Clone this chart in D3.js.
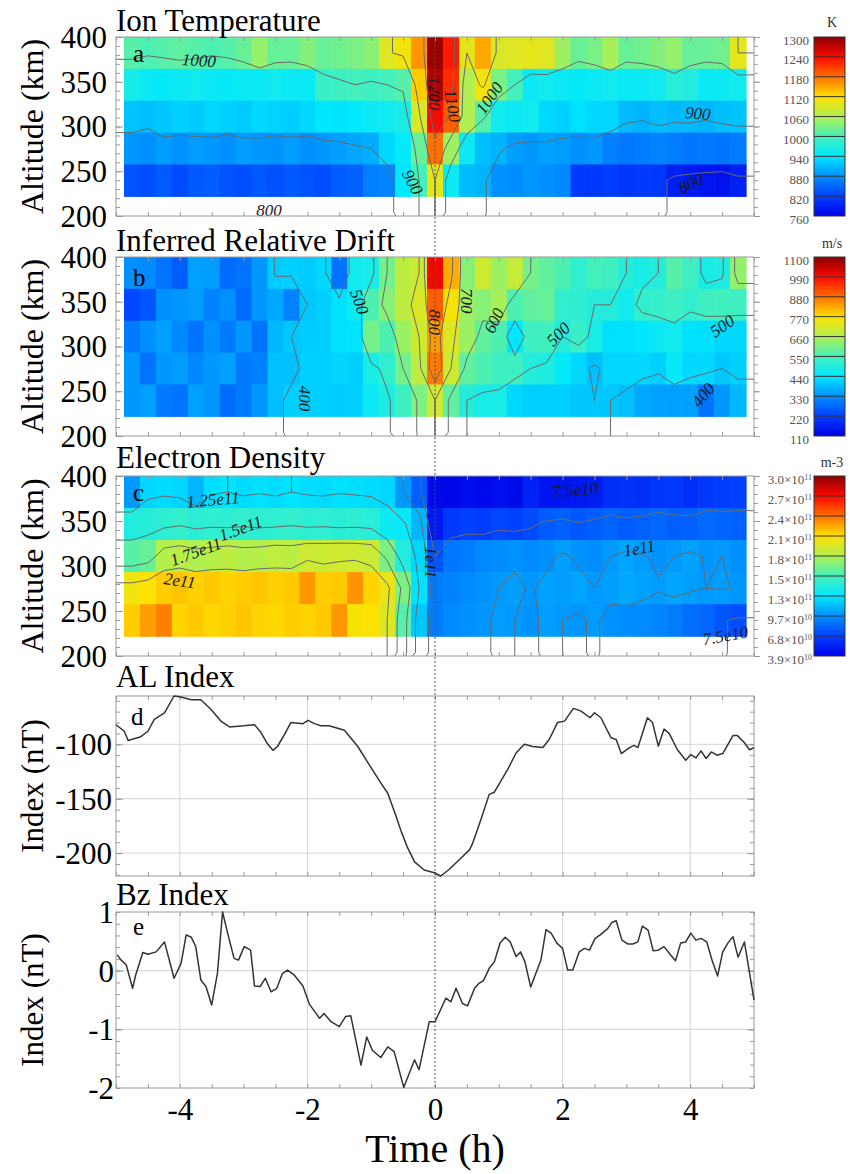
<!DOCTYPE html>
<html>
<head>
<meta charset="utf-8">
<script src="https://cdn.jsdelivr.net/npm/d3@7"></script>
<style>
  body { margin: 0; background: #fff; }
  text { font-family: "Liberation Serif", "Times New Roman", serif; }
</style>
</head>
<body>
<script>
// ---------- DATA ----------
// radar bins: 15 min in time, 5 altitude gates
var binTimes = [-4.75, -4.5, -4.25, -4, -3.75, -3.5, -3.25, -3, -2.75, -2.5, -2.25, -2, -1.75,
  -1.5, -1.25, -1, -0.75, -0.5, -0.25, 0, 0.25, 0.5, 0.75, 1, 1.25, 1.5, 1.75, 2, 2.25, 2.5,
  2.75, 3, 3.25, 3.5, 3.75, 4, 4.25, 4.5, 4.75]
var altEdges = [400, 364.4, 328.8, 293.2, 257.6, 222]

// Ion temperature (K), rows top -> bottom
var ionTemp = [
  [1010, 1005, 1010, 1015, 1010, 1005, 1010, 1020, 1045, 1020, 1020, 1035, 1020, 1025, 1030, 1040, 1095, 1110, 1160, 1290, 1230, 1100, 1150, 1090, 1095, 1100, 1095, 1050, 1020, 1030, 1055, 1020, 1025, 1035, 1045, 1020, 1020, 1025, 1100],
  [960, 950, 945, 950, 955, 950, 945, 950, 950, 955, 950, 948, 990, 995, 1000, 995, 1000, 1010, 1130, 1280, 1220, 1060, 1110, 1030, 1000, 950, 955, 950, 945, 950, 955, 950, 950, 955, 975, 970, 950, 950, 955],
  [915, 912, 918, 925, 920, 928, 925, 920, 930, 925, 922, 930, 940, 938, 942, 950, 955, 965, 1090, 1240, 1190, 1060, 1010, 955, 950, 955, 930, 925, 935, 930, 928, 910, 905, 912, 908, 910, 905, 912, 915],
  [885, 880, 890, 882, 888, 885, 880, 890, 885, 883, 888, 880, 885, 890, 895, 900, 930, 945, 1020, 1180, 1050, 950, 912, 905, 890, 885, 892, 888, 880, 885, 868, 862, 865, 870, 865, 860, 862, 858, 865],
  [835, 830, 840, 828, 838, 842, 835, 830, 838, 832, 840, 835, 830, 842, 845, 868, 872, 940, 1000, 1100, 950, 910, 905, 882, 878, 885, 880, 875, 815, 812, 818, 810, 815, 812, 790, 785, 780, 778, 790]
]

// Inferred relative drift (m/s)
var drift = [
  [330, 325, 290, 260, 350, 345, 280, 290, 340, 405, 410, 405, 420, 290, 470, 480, 600, 680, 700, 1000, 820, 620, 700, 640, 690, 600, 580, 560, 520, 550, 540, 500, 480, 500, 570, 540, 480, 490, 630],
  [230, 250, 330, 340, 345, 310, 330, 280, 340, 360, 310, 400, 410, 430, 460, 560, 620, 680, 720, 900, 760, 640, 620, 650, 560, 580, 585, 520, 515, 500, 500, 470, 520, 525, 540, 520, 540, 545, 540],
  [300, 330, 350, 320, 290, 330, 300, 340, 290, 380, 400, 405, 410, 430, 435, 600, 560, 640, 700, 840, 720, 640, 580, 560, 440, 540, 545, 500, 530, 480, 430, 430, 440, 460, 470, 430, 430, 420, 420],
  [340, 290, 340, 345, 320, 340, 350, 300, 310, 390, 390, 410, 410, 415, 410, 480, 520, 600, 680, 870, 700, 580, 560, 540, 540, 500, 490, 450, 420, 390, 420, 420, 420, 410, 450, 420, 420, 400, 410],
  [340, 350, 300, 290, 350, 340, 280, 300, 340, 390, 410, 410, 410, 405, 410, 460, 490, 540, 610, 700, 580, 500, 480, 480, 420, 410, 410, 410, 400, 400, 400, 390, 360, 350, 350, 350, 290, 340, 380]
]

// Electron density (1e10 m-3)
var density = [
  [10, 12, 12.2, 12, 11, 12.3, 12.5, 12.2, 12.4, 12.2, 12.5, 12.3, 12.2, 12.4, 12.3, 12.2, 12, 10, 8, 4.3, 4.2, 4.5, 4.3, 4.6, 4.4, 5.5, 4.8, 4.9, 5.0, 5.2, 6.0, 6.2, 6.0, 6.3, 6.5, 6.0, 6.4, 6.6, 6.8],
  [14, 14.2, 14.5, 14.8, 14.4, 14.6, 14.5, 14.7, 14.5, 14.6, 14.8, 14.5, 14.6, 14.4, 14.5, 14.3, 13.2, 12.8, 11, 5, 6.5, 6.8, 6.6, 7.0, 6.8, 7.2, 7.8, 8.0, 7.6, 7.9, 8.1, 7.8, 8.0, 8.2, 7.9, 8.0, 8.3, 8.1, 8.0],
  [16, 16.5, 18.5, 18.8, 18.4, 18.6, 18.9, 18.5, 18.7, 19.0, 18.8, 19.5, 19.4, 19.6, 19.5, 19.3, 17, 14, 12, 7.5, 8.8, 9.0, 9.4, 9.6, 9.8, 9.5, 9.7, 10.2, 9.8, 9.6, 10.0, 10.4, 10.1, 9.8, 10.0, 10.3, 9.9, 10.0, 9.7],
  [20.8, 21.2, 21.8, 22.0, 21.7, 21.9, 21.6, 21.8, 22.0, 21.7, 21.9, 23.2, 21.8, 21.9, 23.3, 21.6, 20.5, 17, 12.5, 9, 9.2, 9.5, 9.8, 10.0, 10.2, 9.9, 10.3, 10.1, 10.4, 10.0, 10.2, 10.5, 10.3, 10.1, 10.4, 10.2, 10.0, 10.1, 9.9],
  [21.8, 23.0, 23.8, 21.6, 21.9, 21.5, 21.7, 22.0, 21.6, 21.5, 21.8, 21.6, 21.9, 23.2, 21, 21.2, 20, 16, 11.5, 9, 9.5, 9.7, 9.9, 10.1, 10.0, 9.8, 10.2, 10.0, 9.9, 10.1, 9.8, 9.6, 9.5, 9.3, 9.0, 8.5, 8.2, 7.6, 7.3]
]

// colour bar ticks (value of each band edge) and their labels
var tempTicks = [760, 820, 880, 940, 1000, 1060, 1120, 1180, 1240, 1300]
var driftTicks = [110, 220, 330, 440, 550, 660, 770, 880, 990, 1100]
var densTicks = [3.9, 6.8, 9.7, 12.6, 15.5, 18.4, 21.3, 24.2, 27.1, 30.0]
var densTickLabels = [["3.9", "10"], ["6.8", "10"], ["9.7", "10"], ["1.3", "11"], ["1.5", "11"],
  ["1.8", "11"], ["2.1", "11"], ["2.4", "11"], ["2.7", "11"], ["3.0", "11"]]

// contour levels
var tempLevels = [800, 900, 1000, 1100, 1200]
var driftLevels = [400, 500, 600, 700, 800]
var densLevels = [7.5, 10, 12.5, 15, 17.5, 20]

// contour labels (time h, altitude km, text, angle)
var tempLabels = [
  {t: -3.7, alt: 374, text: "1000", rot: 4}, {t: -2.6, alt: 207, text: "800", rot: 0},
  {t: -0.35, alt: 238, text: "900", rot: 62}, {t: 0.0, alt: 337, text: "1200", rot: 90},
  {t: 0.28, alt: 323, text: "1100", rot: 80}, {t: 0.85, alt: 332, text: "1000", rot: -55},
  {t: 4.12, alt: 315, text: "900", rot: 5}, {t: 4.01, alt: 237, text: "800", rot: -25}
]
var driftLabels = [
  {t: -1.18, alt: 350, text: "500", rot: 70}, {t: -2.04, alt: 242, text: "400", rot: 90},
  {t: 0.0, alt: 327, text: "800", rot: 90}, {t: 0.5, alt: 351, text: "700", rot: 90},
  {t: 0.92, alt: 329, text: "600", rot: -65}, {t: 1.93, alt: 314, text: "500", rot: -45},
  {t: 4.5, alt: 323, text: "500", rot: -35}, {t: 4.2, alt: 246, text: "400", rot: -50}
]
var densLabels = [
  {t: -3.48, alt: 374, text: "1.25e11", rot: -5}, {t: -3.05, alt: 342, text: "1.5e11", rot: -20},
  {t: -3.75, alt: 316, text: "1.75e11", rot: -20}, {t: -4.0, alt: 284, text: "2e11", rot: 8},
  {t: -0.06, alt: 304, text: "1e11", rot: 90}, {t: 2.2, alt: 385, text: "7.5e10", rot: -5},
  {t: 3.2, alt: 320, text: "1e11", rot: -10}, {t: 4.55, alt: 223, text: "7.5e10", rot: -10}
]

// AL index (nT)
var alTime = [-5.0, -4.87, -4.81, -4.61, -4.5, -4.4, -4.24, -4.09, -3.98, -3.82, -3.67, -3.51, -3.35,
  -3.22, -3.0, -2.83, -2.73, -2.62, -2.54, -2.47, -2.36, -2.26, -2.07, -1.99, -1.89, -1.79, -1.66,
  -1.42, -1.21, -1.05, -0.85, -0.74, -0.61, -0.53, -0.43, -0.32, -0.17, -0.01, 0.09, 0.22, 0.38,
  0.54, 0.59, 0.72, 0.85, 0.93, 1.14, 1.27, 1.4, 1.53, 1.69, 1.79, 1.92, 2.03, 2.17, 2.29, 2.43,
  2.5, 2.6, 2.76, 2.84, 2.92, 3.05, 3.12, 3.18, 3.33, 3.41, 3.5, 3.59, 3.67, 3.8, 3.93, 4.01,
  4.09, 4.17, 4.25, 4.33, 4.42, 4.51, 4.67, 4.74, 4.85, 4.93, 5.0]
var alValue = [-82, -88, -96.5, -93, -88, -77, -71, -55.6, -56.5, -59, -59, -68, -79,
  -84, -83, -82, -89, -100, -105.5, -102, -91, -80, -81, -78, -81, -83, -83,
  -87, -102, -117, -135.5, -145, -166, -180, -195, -208, -215.5, -218, -221, -215, -206,
  -197, -191, -169, -146, -144, -123, -108, -100, -102, -103, -95.6, -80, -78.7, -67, -69.5, -75.6,
  -71, -75.6, -94, -95.6, -108.5, -103, -101, -103, -75.6, -80, -101.7, -86, -90, -105, -114.6, -109.4,
  -112.5, -106, -113, -107, -110, -108.5, -92, -92, -98.6, -105, -103]

// Bz index (nT)
var bzTime = [-4.98, -4.92, -4.84, -4.74, -4.69, -4.58, -4.5, -4.37, -4.24, -4.09, -3.98, -3.9, -3.82,
  -3.75, -3.67, -3.59, -3.5, -3.41, -3.33, -3.25, -3.15, -3.08, -2.99, -2.89, -2.83, -2.74, -2.66,
  -2.57, -2.48, -2.39, -2.31, -2.21, -2.07, -1.97, -1.81, -1.74, -1.63, -1.5, -1.4, -1.32, -1.16,
  -1.07, -0.98, -0.85, -0.74, -0.64, -0.49, -0.32, -0.25, -0.09, 0.0, 0.17, 0.25, 0.33, 0.43, 0.51,
  0.62, 0.69, 0.76, 0.85, 0.93, 1.02, 1.1, 1.18, 1.27, 1.34, 1.41, 1.5, 1.66, 1.74, 1.82, 1.91, 2.0,
  2.08, 2.16, 2.26, 2.34, 2.42, 2.51, 2.59, 2.71, 2.77, 2.84, 2.93, 3.02, 3.1, 3.18, 3.25, 3.34,
  3.42, 3.5, 3.59, 3.69, 3.77, 3.85, 3.93, 4.01, 4.09, 4.17, 4.26, 4.35, 4.43, 4.51, 4.59, 4.67,
  4.75, 4.85, 5.0]
var bzValue = [0.27, 0.18, 0.1, -0.3, -0.07, 0.31, 0.28, 0.32, 0.49, -0.13, 0.125, 0.61, 0.57,
  0.41, -0.16, -0.27, -0.585, -0.045, 1.0, 0.64, 0.21, 0.18, 0.41, 0.35, -0.26, -0.27, -0.13,
  -0.36, -0.3, -0.045, 0.01, -0.07, -0.26, -0.57, -0.81, -0.73, -0.87, -0.955, -0.78, -0.77, -1.61,
  -1.13, -1.36, -1.48, -1.3, -1.38, -1.99, -1.52, -1.69, -0.87, -0.87, -0.47, -0.53, -0.3, -0.56, -0.6,
  -0.3, -0.215, -0.17, 0.04, 0.15, 0.47, 0.57, 0.49, 0.24, 0.32, 0.15, -0.28, 0.18, 0.7, 0.64, 0.47, 0.38,
  0.01, 0.01, 0.32, 0.38, 0.35, 0.55, 0.61, 0.72, 0.82, 0.85, 0.52, 0.455, 0.455, 0.49, 0.76, 0.69,
  0.34, 0.35, 0.41, 0.27, 0.17, 0.47, 0.49, 0.64, 0.52, 0.55, 0.49, 0.15, -0.09, 0.32, 0.47, 0.58,
  0.23, 0.49, -0.5]

// rainbow colour table (one colour per colour-bar band edge)
var jetColors = ["#0000e8", "#0040ff", "#0090ff", "#00e8ff", "#44f0bc", "#b0f050", "#ffe000", "#ff7000", "#ff0800", "#880000"]

// ---------- LAYOUT ----------
var width = 850, height = 1174
var x = d3.scaleLinear().domain([-5, 5]).range([116, 754])
var binStep = binTimes[1] - binTimes[0]

var svg = d3.select("body").append("svg")
  .attr("width", width)
  .attr("height", height)

var defs = svg.append("defs")

function frameAndTicks(g, y, top, bottom, yMinor, yMajor, rightOut) {
  // minor ticks top and bottom every half hour
  g.append("g").attr("transform", "translate(0," + bottom + ")")
    .call(d3.axisBottom(x).tickValues(d3.range(-5, 5.01, 0.5)).tickSize(-4).tickFormat(""))
  g.append("g").attr("transform", "translate(0," + top + ")")
    .call(d3.axisTop(x).tickValues(d3.range(-5, 5.01, 0.5)).tickSize(-4).tickFormat(""))
  // left / right ticks
  g.append("g").attr("transform", "translate(" + x(-5) + ",0)")
    .call(d3.axisLeft(y).tickValues(yMinor).tickSize(-4).tickFormat(""))
  g.append("g").attr("transform", "translate(" + x(-5) + ",0)")
    .call(d3.axisLeft(y).tickValues(yMajor).tickSize(-7).tickFormat(""))
  g.append("g").attr("transform", "translate(" + x(5) + ",0)")
    .call(d3.axisRight(y).tickValues(yMinor).tickSize(rightOut ? 4 : -4).tickFormat(""))
  g.append("g").attr("transform", "translate(" + x(5) + ",0)")
    .call(d3.axisRight(y).tickValues(yMajor).tickSize(rightOut ? 6 : -7).tickFormat(""))
  g.selectAll(".domain").remove()
  g.selectAll(".tick line").attr("stroke", "#999")
  g.append("rect")
    .attr("x", x(-5)).attr("y", top)
    .attr("width", x(5) - x(-5)).attr("height", bottom - top)
    .attr("fill", "none").attr("stroke", "#999")
}

function yLabels(g, y, values, xEnd) {
  g.selectAll(null).data(values).enter().append("text")
    .attr("x", xEnd).attr("y", d => y(d))
    .attr("dy", "0.35em")
    .attr("text-anchor", "end")
    .attr("font-size", 31)
    .text(d => String(d))
}

function titleAndAxisName(g, p, axisName, fontSize) {
  g.append("text").attr("x", 116).attr("y", p.titleY)
    .attr("font-size", 31).text(p.title)
  g.append("text").attr("x", p.letterX).attr("y", p.letterY)
    .attr("font-size", 25).text(p.letter)
  g.append("text")
    .attr("transform", "translate(43," + ((p.top + p.bottom) / 2) + ") rotate(-90)")
    .attr("text-anchor", "middle")
    .attr("font-size", fontSize)
    .text(axisName)
}

// ---------- HEATMAP PANELS ----------
function padGrid(rows) {
  // repeat the edge cells once so contours reach the borders
  var nx = rows[0].length + 2, ny = rows.length + 2, vals = []
  for (var j = 0; j < ny; j++) {
    var r = rows[Math.min(Math.max(j - 1, 0), rows.length - 1)]
    for (var i = 0; i < nx; i++) vals.push(r[Math.min(Math.max(i - 1, 0), r.length - 1)])
  }
  return {nx: nx, ny: ny, vals: vals}
}

function heatPanel(p) {
  var y = d3.scaleLinear().domain([200, 400]).range([p.bottom, p.top])
  var color = d3.scaleLinear().domain(p.cbTicks).range(jetColors).clamp(true)
  var g = svg.append("g")

  defs.append("clipPath").attr("id", "clip-" + p.letter)
    .append("rect").attr("x", x(-5)).attr("y", p.top)
    .attr("width", x(5) - x(-5)).attr("height", p.bottom - p.top)

  // cells
  var cells = g.append("g")
  p.rows.forEach(function(row, r) {
    cells.selectAll(null).data(row).enter().append("rect")
      .attr("x", (d, i) => x(binTimes[i] - binStep / 2))
      .attr("y", y(altEdges[r]))
      .attr("width", x(binStep) - x(0) + 0.6)
      .attr("height", y(altEdges[r + 1]) - y(altEdges[r]) + 0.6)
      .attr("fill", d => color(d))
  })

  // contours
  var grid = padGrid(p.rows)
  var rowStep = (altEdges[0] - altEdges[altEdges.length - 1]) / p.rows.length
  var proj = d3.geoTransform({
    point: function(gx, gy) {
      this.stream.point(x(binTimes[0] + binStep * (gx - 1.5)), y(altEdges[0] - rowStep * (gy - 1)))
    }
  })
  var contours = d3.contours().size([grid.nx, grid.ny]).thresholds(p.levels)(grid.vals)
  g.append("g").attr("clip-path", "url(#clip-" + p.letter + ")")
    .selectAll("path").data(contours).enter().append("path")
    .attr("d", d3.geoPath(proj))
    .attr("fill", "none")
    .attr("stroke", "#6a6a6a")
    .attr("stroke-width", 1)

  g.selectAll(null).data(p.labels).enter().append("text")
    .attr("transform", d => "translate(" + x(d.t) + "," + y(d.alt) + ") rotate(" + d.rot + ")")
    .attr("text-anchor", "middle")
    .attr("dy", "0.35em")
    .attr("font-size", 17)
    .attr("font-style", "italic")
    .attr("fill", "#1a1a1a")
    .text(d => d.text)

  frameAndTicks(g, y, p.top, p.bottom, d3.range(200, 401, 10), [200, 250, 300, 350, 400], true)
  yLabels(g, y, [200, 250, 300, 350, 400], 107)
  titleAndAxisName(g, p, "Altitude (km)", 32)

  // colour bar
  var cbX = 814, cbW = 31
  var cy = d3.scaleLinear().domain([p.cbTicks[0], p.cbTicks[p.cbTicks.length - 1]]).range([p.bottom, p.top])
  var grad = defs.append("linearGradient").attr("id", "grad-" + p.letter)
    .attr("x1", 0).attr("y1", 1).attr("x2", 0).attr("y2", 0)
  grad.selectAll("stop").data(p.cbTicks).enter().append("stop")
    .attr("offset", (d, i) => i / (p.cbTicks.length - 1))
    .attr("stop-color", d => color(d))
  g.append("rect").attr("x", cbX).attr("y", p.top)
    .attr("width", cbW).attr("height", p.bottom - p.top)
    .attr("fill", "url(#grad-" + p.letter + ")")
  g.selectAll(null).data(p.cbTicks.slice(1, -1)).enter().append("line")
    .attr("x1", cbX).attr("x2", cbX + cbW)
    .attr("y1", d => cy(d)).attr("y2", d => cy(d))
    .attr("stroke", "#333").attr("stroke-width", 1)
  g.append("rect").attr("x", cbX).attr("y", p.top)
    .attr("width", cbW).attr("height", p.bottom - p.top)
    .attr("fill", "none").attr("stroke", "#333")

  var lab = g.selectAll(null).data(p.cbTicks).enter().append("text")
    .attr("x", 809).attr("y", d => cy(d) + 3)
    .attr("dy", "0.35em")
    .attr("text-anchor", "end")
    .attr("font-size", 13)
    .attr("fill", "#555")
  if (p.cbLabels) {
    lab.text((d, i) => p.cbLabels[i][0] + "\u00d710")
      .append("tspan").attr("dy", "-0.45em").attr("font-size", 8).text((d, i) => p.cbLabels[i][1])
    lab.attr("x", 812)
  } else {
    lab.text(d => String(d))
  }
  g.append("text").attr("x", 832).attr("y", p.unitY)
    .attr("text-anchor", "middle").attr("font-size", 14).attr("fill", "#333")
    .text(p.unit)
}

heatPanel({rows: ionTemp, top: 37, bottom: 216, cbTicks: tempTicks, levels: tempLevels,
  labels: tempLabels, title: "Ion Temperature", titleY: 31, letter: "a", letterX: 133, letterY: 62,
  unit: "K", unitY: 27})
heatPanel({rows: drift, top: 257, bottom: 436, cbTicks: driftTicks, levels: driftLevels,
  labels: driftLabels, title: "Inferred Relative Drift", titleY: 251, letter: "b", letterX: 133, letterY: 286,
  unit: "m/s", unitY: 248})
heatPanel({rows: density, top: 476, bottom: 656, cbTicks: densTicks, levels: densLevels,
  labels: densLabels, title: "Electron Density", titleY: 468, letter: "c", letterX: 133, letterY: 501,
  unit: "m-3", unitY: 467, cbLabels: densTickLabels})

// ---------- LINE PANELS ----------
function linePanel(p) {
  var y = d3.scaleLinear().domain(p.domain).range([p.bottom, p.top])
  var g = svg.append("g")
  // grid
  g.selectAll(null).data([-4, -2, 2, 4]).enter().append("line")
    .attr("x1", d => x(d)).attr("x2", d => x(d))
    .attr("y1", p.top).attr("y2", p.bottom)
    .attr("stroke", "#d4d4d4")
  g.selectAll(null).data(p.major).enter().append("line")
    .attr("x1", x(-5)).attr("x2", x(5))
    .attr("y1", d => y(d)).attr("y2", d => y(d))
    .attr("stroke", "#d4d4d4")

  frameAndTicks(g, y, p.top, p.bottom, p.minor, p.major, false)

  var line = d3.line().x(d => x(d[0])).y(d => y(d[1]))
  g.append("path")
    .datum(d3.zip(p.times, p.values))
    .attr("d", line)
    .attr("fill", "none")
    .attr("stroke", "#333")
    .attr("stroke-width", 1.5)
    .attr("stroke-linejoin", "round")

  yLabels(g, y, p.labelValues, p.labelX)
  titleAndAxisName(g, p, "Index (nT)", 31)
  return g
}

var alExtent = d3.extent(alValue)
linePanel({times: alTime, values: alValue, domain: alExtent, top: 696, bottom: 876,
  minor: d3.range(-220, -55, 10), major: [-100, -150, -200], labelValues: [-100, -150, -200], labelX: 112,
  title: "AL Index", titleY: 687, letter: "d", letterX: 131, letterY: 725})

var eg = linePanel({times: bzTime, values: bzValue, domain: [-2, 1], top: 912, bottom: 1088,
  minor: d3.range(-2, 1.001, 0.2), major: [0, -1], labelValues: [1, 0, -1, -2], labelX: 114,
  title: "Bz Index", titleY: 905, letter: "e", letterX: 133, letterY: 935})

// time axis under the last panel
eg.append("g").attr("transform", "translate(0,1088)")
  .call(d3.axisBottom(x).tickValues([-4, -2, 0, 2, 4]).tickSize(0).tickPadding(10)
    .tickFormat(d => String(d)))
  .call(a => a.select(".domain").remove())
  .selectAll("text")
  .attr("font-size", 31)
  .attr("font-family", "Liberation Serif")
  .attr("fill", "#000")

svg.append("text").attr("x", x(0)).attr("y", 1162)
  .attr("text-anchor", "middle").attr("font-size", 40)
  .text("Time (h)")

// dotted onset line through all panels
svg.append("line")
  .attr("x1", x(0)).attr("x2", x(0))
  .attr("y1", 37).attr("y2", 1088)
  .attr("stroke", "#555")
  .attr("stroke-width", 1)
  .attr("stroke-dasharray", "2,2")
</script>
</body>
</html>
